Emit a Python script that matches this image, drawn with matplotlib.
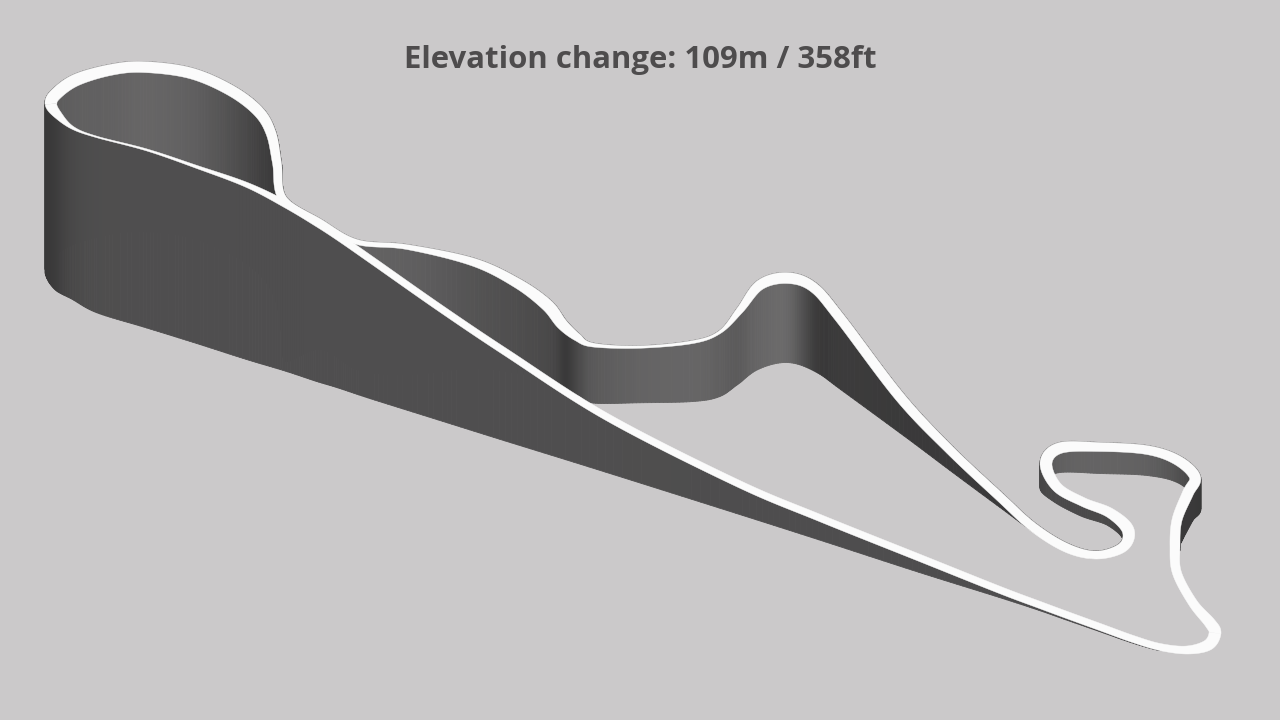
import numpy as np
import matplotlib
matplotlib.use("Agg")
import matplotlib.pyplot as plt
from matplotlib.collections import PolyCollection

title = "Elevation change: 109m / 358ft"

# far part of the lap: left extreme of the top loop, round to the lower-right corner
back_x = [51, 56, 76, 110, 143, 190, 230, 258, 271, 277, 283, 320, 357, 407, 473, 517, 547, 562, 577, 593, 640, 693, 720, 740, 760, 787, 813, 840,
          900, 950, 1000, 1033, 1067, 1097, 1123, 1128, 1110, 1083, 1057, 1046, 1060, 1100, 1147, 1177, 1195, 1188, 1177, 1175, 1177, 1193, 1210, 1215]
back_y = [104, 94, 80, 70, 67, 73, 90, 111, 133, 163, 199, 222, 242, 247, 262, 283, 305, 324, 337, 345, 347, 342, 332, 310, 285, 278, 287, 318,
          397, 450, 497, 527, 548, 555, 547, 530, 513, 502, 487, 463, 448, 447, 450, 460, 477, 493, 520, 547, 573, 603, 623, 633]
back_width = [12, 12, 12, 11, 11, 11, 11, 11, 10, 9, 8, 6, 5, 5, 8, 10, 12, 11, 8, 4, 2.5, 3, 3, 7, 10, 11, 10, 10,
              10, 9, 9, 9, 9, 8, 10, 12, 10, 9, 10, 12, 11, 9, 9, 10, 11, 11, 10, 10, 9, 9, 11, 12]
back_height = [165, 168, 170, 170, 170, 170, 170, 170, 170, 170, 165, 130, 130, 130, 110, 95, 78, 70, 62, 60, 57, 61, 66, 77, 89, 90, 89, 77,
               42, 26, 16, 10, 8, 7, 6, 6, 8, 10, 11, 24, 30, 31, 30, 28, 30, 25, 20, 1, 0, 0, 0, 0]
back_shade = [0x58, 0x5a, 0x60, 0x62, 0x66, 0x60, 0x50, 0x40, 0x3a, 0x3a, 0x3a, 0x60, 0x62, 0x60, 0x54, 0x4e, 0x48, 0x3a, 0x4c, 0x5a, 0x64, 0x66, 0x60, 0x5c, 0x66, 0x68, 0x3c, 0x3c,
              0x3a, 0x3a, 0x3a, 0x3a, 0x3a, 0x40, 0x40, 0x40, 0x4a, 0x4a, 0x4a, 0x48, 0x60, 0x64, 0x60, 0x50, 0x3a, 0x3a, 0x3a, 0x3a, 0x3a, 0x3a, 0x3a, 0x3a]

# main straight: lower-right corner back up to the left extreme of the top loop
main_x = [1215, 1208, 1187, 1160, 1133, 1100, 1067, 1040, 1000, 920, 820, 737, 607, 507, 440, 373, 340, 317, 287, 247, 197, 147, 97, 73, 58, 51]
main_y = [633, 645, 650, 647, 639, 627, 615, 605, 590, 558, 518, 483, 417, 353, 308, 261, 238, 223, 205, 185, 167, 150, 137, 128, 115, 104]
main_width = [12, 11, 8, 7, 7, 7, 7, 7, 7, 7, 7, 7, 7, 7, 7, 7, 7, 7, 7, 5, 3, 2, 1.5, 3, 8, 12]
main_height = [0, 0, 0, 0, 0.5, 1, 1.5, 2, 4, 11, 18.5, 27, 52, 85, 109, 135, 147, 155, 163, 172, 175, 177, 175, 170, 172, 168]
main_shade = [0x4a, 0x4a, 0x4a, 0x4e, 0x4e, 0x4e, 0x4e, 0x4e, 0x4e, 0x4e, 0x4e, 0x4e, 0x4f, 0x4f, 0x4f, 0x4f, 0x4f, 0x4f, 0x4f, 0x4f, 0x4f, 0x4f, 0x4e, 0x48, 0x3c, 0x38]

BG = "#cbc9ca"
RIBBON = "#fbfbfb"
TEXT = "#4e4c4d"
N = 14


def smooth(*cols):
    """Catmull-Rom rendering of the read outline so the curve is drawn round."""
    p = np.array(cols, float).T
    q = np.vstack([2 * p[0] - p[1], p, 2 * p[-1] - p[-2]])
    t = np.linspace(0, 1, N, endpoint=False)[:, None]
    out = []
    for i in range(1, len(q) - 2):
        a, b, c, d = q[i - 1], q[i], q[i + 1], q[i + 2]
        out.append(0.5 * (2 * b + (c - a) * t + (2 * a - 5 * b + 4 * c - d) * t ** 2 + (3 * b - a - 3 * c + d) * t ** 3))
    out.append(p[-1:])
    return np.vstack(out).T


def geometry(x, y, w, h, s, before, after):
    # the neighbouring points of the lap keep the ribbon's direction through the two joins
    ex = [before[0]] + list(x) + [after[0]]
    ey = [before[1]] + list(y) + [after[1]]
    xs, ys = smooth(ex, ey)
    dx, dy = np.gradient(xs), np.gradient(ys)
    ln = np.hypot(dx, dy) + 1e-9
    nx, ny = (dy / ln)[N:-N], (-dx / ln)[N:-N]
    xs, ys = xs[N:-N], ys[N:-N]
    ws, hs, ss = smooth(w, h, s)
    return xs, ys, np.maximum(ws, 0.5), np.maximum(hs, 0), np.clip(ss, 0x30, 0x70), nx, ny


def walls(ax, part, z):
    xs, ys, ws, hs, ss, nx, ny = geometry(*part)
    ax_, ay_ = xs + nx * ws / 2, ys + ny * ws / 2
    by_ = ay_ + hs
    quads, cols, depth = [], [], []
    for i in range(len(xs) - 1):
        if hs[i] <= 0 and hs[i + 1] <= 0:
            continue
        quads.append([(ax_[i], ay_[i]), (ax_[i + 1], ay_[i + 1]), (ax_[i + 1], by_[i + 1]), (ax_[i], by_[i])])
        g = ss[i] / 255
        cols.append((g, g * 0.99, g * 0.995))
        depth.append(by_[i])
    order = np.argsort(depth)
    pc = PolyCollection([quads[i] for i in order], facecolors=[cols[i] for i in order],
                        edgecolors=[cols[i] for i in order], linewidths=0.6, zorder=z)
    ax.add_collection(pc)


def ribbon(ax, part, z):
    xs, ys, ws, hs, ss, nx, ny = geometry(*part)
    ax.fill(np.r_[xs + nx * ws / 2, (xs - nx * ws / 2)[::-1]],
            np.r_[ys + ny * ws / 2, (ys - ny * ws / 2)[::-1]],
            color=RIBBON, lw=0.3, zorder=z)


fig = plt.figure(figsize=(12.8, 7.2), dpi=100, facecolor=BG)
ax = fig.add_axes([0, 0, 1, 1])
ax.set_xlim(0, 1280)
ax.set_ylim(720, 0)
ax.axis("off")

back = (back_x, back_y, back_width, back_height, back_shade,
        (main_x[-2], main_y[-2]), (main_x[1], main_y[1]))
main = (main_x, main_y, main_width, main_height, main_shade,
        (back_x[-2], back_y[-2]), (back_x[1], back_y[1]))
walls(ax, back, z=1)
ribbon(ax, back, z=2)
walls(ax, main, z=3)
ribbon(ax, main, z=4)

ax.text(640, 60, title, ha="center", va="center", fontsize=22.4, fontweight="bold",
        family="Open Sans", color=TEXT, zorder=5)

fig.savefig("out.png", dpi=100, facecolor=BG)
